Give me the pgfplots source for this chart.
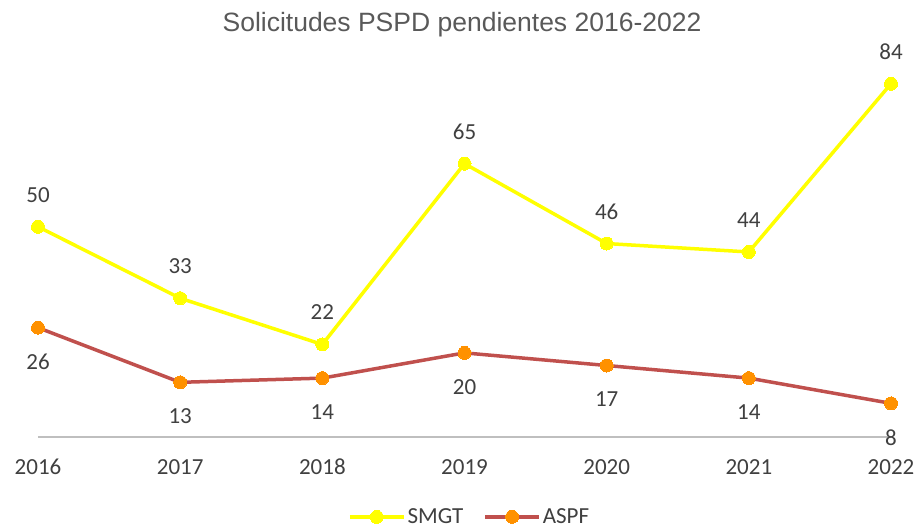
\documentclass[border=0pt]{standalone}
\usepackage{pgfplots}
\pgfplotsset{compat=1.18}
\usepackage{fontspec}
\setmainfont{Carlito}
\newfontfamily\titlefont{Liberation Sans}
\definecolor{smgt}{HTML}{FFFF00}
\definecolor{aspfline}{HTML}{C0504D}
\definecolor{aspfmark}{HTML}{FF9100}
\definecolor{txt}{HTML}{404040}
\definecolor{ttl}{HTML}{595959}
\definecolor{axl}{HTML}{BFBFBF}

\begin{document}
\begin{tikzpicture}
\useasboundingbox (0,0) rectangle (916pt,530pt);
\begin{axis}[
    at={(38pt,93pt)}, anchor=south west,
    scale only axis,
    width=853pt, height=378.5pt,
    xmin=0, xmax=6, ymin=0, ymax=90,
    axis x line=bottom, axis y line=none,
    x axis line style={-, color=axl, line width=1.3pt},
    major tick length=0pt,
    xtick={0,...,6},
    xticklabels={2016,2017,2018,2019,2020,2021,2022},
    xticklabel style={anchor=center, yshift=-30pt, font=\fontsize{23}{26}\selectfont, text=txt},
    /pgf/number format/assume math mode=true,
    nodes near coords,
    every node near coord/.append style={font=\fontsize{23}{26}\selectfont, text=txt, anchor=center},
    clip=false,
    legend columns=2,
    legend style={at={(0.506,-0.211)}, anchor=center, draw=none, fill=none,
        font=\fontsize{23}{26}\selectfont, text=txt,
        /tikz/every even column/.append style={column sep=18pt}},
    legend image code/.code={\draw[mark repeat=2, mark phase=2] plot coordinates {(0pt,0pt) (27pt,0pt) (54pt,0pt)};},
]
\addplot[color=smgt, line width=3.5pt, mark=*, mark size=6.5pt,
    mark options={fill=smgt, draw=smgt, line width=0pt},
    nodes near coords style={yshift=32pt}]
    coordinates {(0,50) (1,33) (2,22) (3,65) (4,46) (5,44) (6,84)};
\addlegendentry{SMGT}
\addplot[color=aspfline, line width=3.5pt, mark=*, mark size=6.5pt,
    mark options={fill=aspfmark, draw=aspfmark, line width=0pt},
    nodes near coords style={yshift=-34pt}]
    coordinates {(0,26) (1,13) (2,14) (3,20) (4,17) (5,14) (6,8)};
\addlegendentry{ASPF}
\end{axis}
\node[font=\titlefont\fontsize{26.5}{30}\selectfont, text=ttl] at (462pt,505pt) {Solicitudes PSPD pendientes 2016-2022};
\end{tikzpicture}
\end{document}
